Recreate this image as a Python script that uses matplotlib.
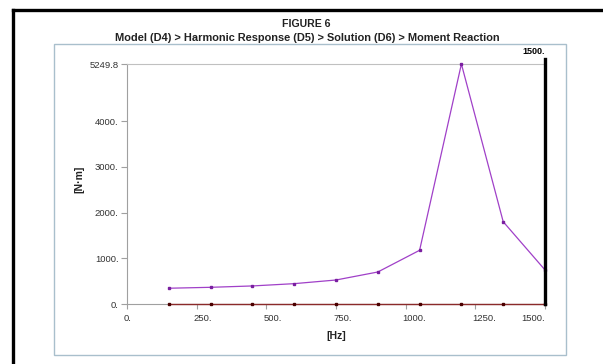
import matplotlib
matplotlib.use("Agg")
import matplotlib.pyplot as plt
from matplotlib.patches import Rectangle
from matplotlib.lines import Line2D
import matplotlib.transforms as mtransforms

# Data
freq_hz = [150, 300, 450, 600, 750, 900, 1050, 1200, 1350, 1500]
moment_total = [345, 365, 395, 445, 525, 700, 1175, 5249.8, 1800, 745]
moment_zero = [0, 0, 0, 0, 0, 0, 0, 0, 0, 0]
x_ticks = [0, 250, 500, 750, 1000, 1250, 1500]
x_tick_labels = ["0.", "250.", "500.", "750.", "1000.", "1250.", "1500."]
y_ticks = [0, 1000, 2000, 3000, 4000, 5249.8]
y_tick_labels = ["0.", "1000.", "2000.", "3000.", "4000.", "5249.8"]
cursor_x = 1500
title1 = "FIGURE 6"
title2 = "Model (D4) > Harmonic Response (D5) > Solution (D6) > Moment Reaction"

W, H = 603, 364
fig = plt.figure(figsize=(W / 100, H / 100), dpi=100)
fig.patch.set_facecolor("white")

def fx(px):
    return px / W

def fy(py):
    return 1 - py / H

# outer black frame (left + top)
fig.add_artist(Line2D([fx(13), fx(13)], [fy(10), 0], color="black", lw=2.4, transform=fig.transFigure))
fig.add_artist(Line2D([fx(13), 1], [fy(10), fy(10)], color="black", lw=2.4, transform=fig.transFigure))
# inner light frame
fig.add_artist(Rectangle((fx(54), fy(355)), fx(566) - fx(54), fy(44) - fy(355),
                         transform=fig.transFigure, fill=False, ec="#a9bfcc", lw=1.0))

fig.text(fx(306), fy(24), title1, ha="center", va="center", fontsize=7.6,
         fontweight="bold", family="Liberation Sans", color="#222222")
fig.text(fx(307), fy(38), title2, ha="center", va="center", fontsize=7.9,
         fontweight="bold", family="Liberation Sans", color="#222222")

ax = fig.add_axes([fx(127), fy(304), fx(545) - fx(127), fy(64) - fy(304)])
ax.set_xlim(0, 1500)
ax.set_ylim(0, 5249.8)

ax.plot(freq_hz, moment_zero, color="#8b2a2a", lw=1.0, marker="s", ms=1.6,
        mfc="#4a0000", mec="#4a0000", clip_on=False, zorder=3)
ax.plot(freq_hz, moment_total, color="#a040c8", lw=0.9, marker="s", ms=1.6,
        mfc="#7a1fa0", mec="#7a1fa0", clip_on=False, zorder=4)

trans = mtransforms.blended_transform_factory(ax.transData, ax.transAxes)
ax.plot([cursor_x, cursor_x], [0, 1 + 5 / 240], color="black", lw=2.4,
        transform=trans, clip_on=False, zorder=5)
ax.text(cursor_x, 1 + 12 / 240, "1500.", transform=trans, ha="right", va="center",
        fontsize=6.5, fontweight="bold", family="Liberation Sans", color="black")

for s in ["left", "bottom"]:
    ax.spines[s].set_color("#a0a0a0")
    ax.spines[s].set_linewidth(0.8)
ax.spines["top"].set_color("#c0c0c0")
ax.spines["top"].set_linewidth(0.8)
ax.spines["right"].set_visible(False)

ax.set_xticks(x_ticks)
ax.set_xticklabels(x_tick_labels)
ax.set_yticks(y_ticks)
ax.set_yticklabels(y_tick_labels)
ax.tick_params(axis="both", direction="out", color="#a0a0a0", width=0.8,
               labelsize=6.8, labelcolor="#333333")
ax.tick_params(axis="y", length=4.5, pad=1.5)
ax.tick_params(axis="x", length=3.5, pad=3.5)
for lab in ax.get_xticklabels() + ax.get_yticklabels():
    lab.set_family("Liberation Sans")

# x tick labels: left-aligned near the tick, last one right-aligned
xlabs = ax.get_xticklabels()
shift_left = mtransforms.ScaledTranslation(-3 / 100, 0, fig.dpi_scale_trans)
for i, lab in enumerate(xlabs):
    if i == len(xlabs) - 1:
        lab.set_ha("right")
    else:
        lab.set_ha("left")
        lab.set_transform(lab.get_transform() + shift_left)

fig.text(fx(336), fy(336), "[Hz]", ha="center", va="center", fontsize=7.5,
         fontweight="bold", family="Liberation Sans", color="#222222")
fig.text(fx(79), fy(179), "[N·m]", ha="center", va="center", fontsize=7.5,
         fontweight="bold", family="Liberation Sans", color="#222222", rotation=90)

fig.savefig("out.png", dpi=100)
